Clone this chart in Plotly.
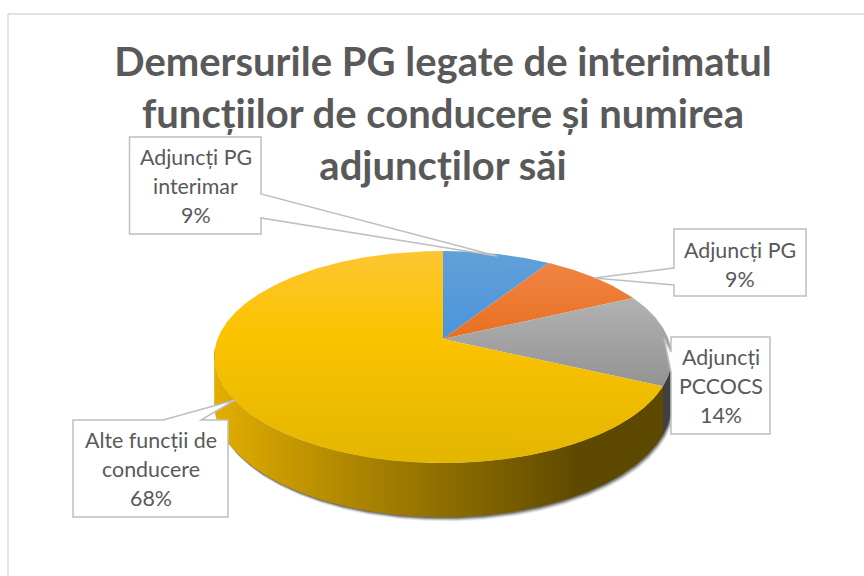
import numpy as np
import plotly.graph_objects as go

# ---- data ----
categories = ["Adjuncți PG interimar", "Adjuncți PG", "Adjuncți PCCOCS", "Alte funcții de conducere"]
values = [9, 9, 14, 68]
label_lines = [["Adjuncți PG", "interimar"], ["Adjuncți PG"], ["Adjuncți", "PCCOCS"], ["Alte funcții de", "conducere"]]
title_text = "Demersurile PG legate de interimatul<br>funcțiilor de conducere și numirea<br>adjuncților săi"

# ---- styling ----
FONT = "Lato"
TXT = "#595959"
LINE = "#BFBFBF"
top_grad = [
    ["#62A0D9", "#4A95DB"],
    ["#F08444", "#E8701F"],
    ["#B2B2B2", "#939393"],
    None,
]
yellow_grad = [[0, "#FDC632"], [0.38, "#FCC300"], [1, "#E3B600"]]
wall_grad = [[0, "#E2AE00"], [0.3, "#AE8600"], [0.62, "#7C6000"], [0.8, "#5E4900"], [1, "#5E4900"]]

# projection of the tilted disc
CX, CY, R, S, K, H = 443.0, 339.0, 225.5, 103.0, 0.17, 45.0


def top_pt(deg):
    t = np.radians(deg)
    u, v = np.sin(t), np.cos(t)
    w = 1 + K * v
    return CX + R * u / w, CY - S * v / w


def bot_pt(deg):
    t = np.radians(deg)
    x, y = top_pt(deg)
    return x, y + H / (1 + K * np.cos(t))


def arc(fn, a, b):
    n = max(int(abs(b - a) * 2), 2)
    return fn(np.linspace(a, b, n))


edges = np.concatenate([[0], np.cumsum(values)]) / sum(values) * 360
RIGHT_T, LEFT_T = 100.0, 260.0

fig = go.Figure()

# soft shadow under the wall
xb, yb = arc(bot_pt, RIGHT_T - 5, LEFT_T + 5)
xt, yt = arc(top_pt, LEFT_T + 5, RIGHT_T - 5)
for off, op in [(4, 0.10), (3, 0.18), (2, 0.30), (1, 0.4)]:
    fig.add_trace(go.Scatter(
        x=np.concatenate([xb + off * 0.6, xt]), y=np.concatenate([yb + off, yt]),
        mode="lines", line=dict(width=0), fill="toself",
        fillcolor=f"rgba(50,50,50,{op})", hoverinfo="skip", showlegend=False))

# side walls
xb, yb = arc(bot_pt, RIGHT_T, edges[3])
xt, yt = arc(top_pt, edges[3], RIGHT_T)
fig.add_trace(go.Scatter(x=np.concatenate([xb, xt]), y=np.concatenate([yb, yt]),
                         mode="lines", line=dict(width=0), fill="toself",
                         fillcolor="#404040", hoverinfo="skip", showlegend=False))
xb, yb = arc(bot_pt, edges[3], LEFT_T)
xt, yt = arc(top_pt, LEFT_T, edges[3])
fig.add_trace(go.Scatter(x=np.concatenate([xb, xt]), y=np.concatenate([yb, yt]),
                         mode="lines", line=dict(width=0), fill="toself", fillcolor="#8a6a00",
                         fillgradient=dict(type="horizontal", colorscale=wall_grad, start=215, stop=670),
                         hoverinfo="skip", showlegend=False))

# top faces
for i, name in enumerate(categories):
    xa, ya = arc(top_pt, edges[i], edges[i + 1])
    x = np.concatenate([[CX], xa, [CX]])
    y = np.concatenate([[CY], ya, [CY]])
    if top_grad[i]:
        cs = [[0, top_grad[i][0]], [1, top_grad[i][1]]]
    else:
        cs = yellow_grad
    start, stop = float(y.min()), float(y.max())
    fig.add_trace(go.Scatter(x=x, y=y, mode="lines", line=dict(width=0), fill="toself",
                             fillcolor=cs[0][1],
                             fillgradient=dict(type="vertical", colorscale=cs, start=start, stop=stop),
                             name=name, text=f"{name}: {values[i]}%", hoverinfo="text",
                             showlegend=False))

# callouts: outline path of box + pointer, centre of text
callouts = [
    ("M129.5 137 H261 V194 L497 256 L261 218 V234 H129.5 Z", 195.5, 186),
    ("M674 229 H806 V296 H674 V285 L594 278 L674 268 Z", 740, 264),
    ("M671 337 H770 V434 H671 V372 L664 338 L671 352 Z", 720.5, 385.5),
    ("M73 420 H163 L235 400 L201 420 H228 V517 H73 Z", 150.5, 469),
]
shapes = [dict(type="path", xref="x", yref="y", path="M8 14 H870 M8 14 V590",
               line=dict(color="#D9D9D9", width=1.5))]
annotations = []
PITCH = 29
for (path, cx, cy), lines, v in zip(callouts, label_lines, values):
    shapes.append(dict(type="path", xref="x", yref="y", path=path, fillcolor="white",
                       line=dict(color=LINE, width=1.5), layer="above"))
    all_lines = lines + [f"{v}%"]
    y0 = cy - PITCH * (len(all_lines) - 1) / 2
    for j, t in enumerate(all_lines):
        annotations.append(dict(x=cx, y=y0 + j * PITCH, xref="x", yref="y", text=t, showarrow=False,
                                xanchor="center", yanchor="middle",
                                font=dict(family=FONT, size=21.4, color=TXT)))

fig.update_layout(
    width=864, height=576, margin=dict(l=0, r=0, t=0, b=0),
    paper_bgcolor="white", plot_bgcolor="white",
    title=dict(text=f"<b>{title_text}</b>", x=443 / 864, xanchor="center",
               y=1 - 76 / 576, yanchor="middle", xref="paper", yref="paper",
               font=dict(family=FONT, size=40, color=TXT)),
    xaxis=dict(range=[0, 864], visible=False, fixedrange=True),
    yaxis=dict(range=[576, 0], visible=False, fixedrange=True),
    shapes=shapes, annotations=annotations, showlegend=False,
)
fig.write_html("out.html", config=dict(displayModeBar=False),
               post_script="document.body.style.margin='0';document.documentElement.style.overflow='hidden';")
